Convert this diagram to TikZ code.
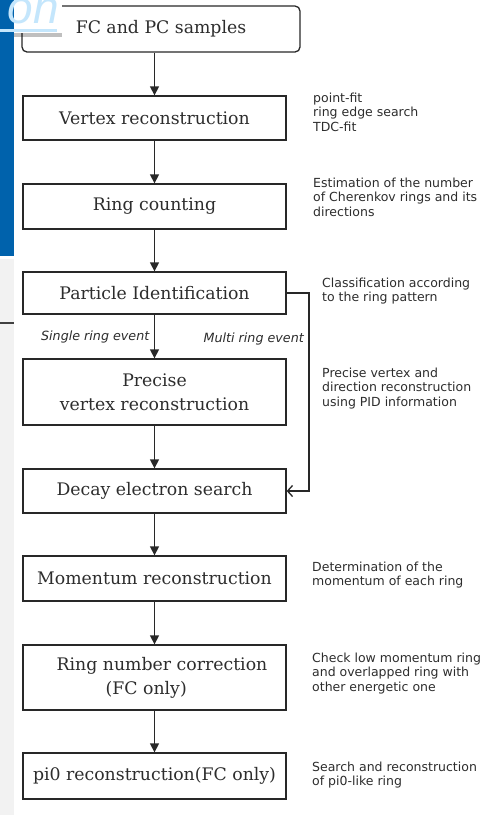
\documentclass[tikz,border=0pt]{standalone}
\usepackage{fontspec}
\setmainfont{DejaVu Serif}
\newfontfamily\sidefont{DejaVu Sans}[ItalicFont={DejaVu Sans Oblique}]
\newfontfamily\titlefont{Liberation Sans}
\usetikzlibrary{arrows.meta}
\definecolor{linec}{RGB}{40,40,40}
\definecolor{textc}{RGB}{45,45,45}
\definecolor{panelblue}{RGB}{0,98,172}
\definecolor{panelgray}{RGB}{242,242,242}
\definecolor{titleblue}{RGB}{196,230,252}
\tikzset{
  box/.style={draw=linec, line width=1.3pt, minimum width=263pt, inner sep=0pt,
    font=\fontsize{17.3}{24}\selectfont, text=textc, align=center},
  arr/.style={-{Triangle[length=9pt,width=9pt]}, line width=1.3pt, draw=linec},
  barb/.style={-{Straight Barb[length=5pt,width=11pt]}, line width=1.3pt, draw=linec},
  side/.style={font=\sidefont\fontsize{12.5}{14.5}\selectfont, anchor=base west,
    align=left, inner sep=0pt, text=textc},
  lab/.style={font=\sidefont\itshape\fontsize{12.7}{14}\selectfont, inner sep=0pt,
    anchor=base east, text=textc}
}
\begin{document}
\begin{tikzpicture}[x=1pt,y=-1pt]
\useasboundingbox (0,0) rectangle (491,815);
\fill[white] (0,0) rectangle (491,815);
% left slide strip
\fill[panelblue] (0,0) rectangle (14,256);
\fill[panelgray] (0,259) rectangle (14,815);
\draw[black!75, line width=1.5pt] (0,323) -- (14,323);

% boxes
\node[box, rounded corners=5pt, minimum width=278pt, minimum height=46pt] (b1) at (161,29) {FC and PC samples};
\node[box, minimum height=44pt] (b2) at (154.5,118) {Vertex reconstruction};
\node[box, minimum height=45pt] (b3) at (154.5,206.5) {Ring counting};
\node[box, minimum height=42pt] (b4) at (154.5,293) {Particle Identification};
\node[box, minimum height=66pt] (b5) at (154.5,392) {Precise\\vertex reconstruction};
\node[box, minimum height=44pt] (b6) at (154.5,491) {Decay electron search};
\node[box, minimum height=45pt] (b7) at (154.5,578.5) {Momentum reconstruction};
\node[box, minimum height=65pt, align=left] (b8) at (154.5,677.5) {\hspace*{15pt}Ring number correction\\\hspace*{64pt}(FC only)};
\node[box, minimum height=46pt] (b9) at (154.5,776) {pi0 reconstruction(FC only)};

% title fragment over the first box
\fill[white] (14,0) rectangle (62,33);
\fill[black, opacity=0.25] (14,33) rectangle (62,37);
\fill[titleblue] (0,29) rectangle (57,32);
\node[font=\titlefont\itshape\fontsize{46}{46}\selectfont, text=titleblue, anchor=base east, inner sep=0pt] (title) at (59,23) {on};

% vertical arrows
\draw[arr] (b1.south -| b2.north) -- (b2.north);
\draw[arr] (b2) -- (b3);
\draw[arr] (b3) -- (b4);
\draw[arr] (b4) -- (b5) coordinate[pos=0.5] (m45);
\draw[arr] (b5) -- (b6);
\draw[arr] (b6) -- (b7);
\draw[arr] (b7) -- (b8);
\draw[arr] (b8) -- (b9);

% multi ring bypass
\coordinate (c1) at (309,0);
\draw[barb] (b4.east) -| (c1 |- b6.east) -- (b6.east);
\node[lab] (single) at ([xshift=-5pt,yshift=-4pt]m45) {Single ring event};
\node[lab] (multi) at (304,342) {Multi ring event};

% side notes (anchor at baseline of last line)
\node[side] (n2) at (313,131) {point-fit\\ring edge search\\TDC-fit};
\node[side] (n3) at (313,216) {Estimation of the number\\of Cherenkov rings and its\\directions};
\node[side] (n4) at (322,301.5) {Classification according\\to the ring pattern};
\node[side] (n5) at (322,406) {Precise vertex and\\direction reconstruction\\using PID information};
\node[side] (n7) at (312,585.5) {Determination of the\\momentum of each ring};
\node[side] (n8) at (312,691) {Check low momentum ring\\and overlapped ring with\\other energetic one};
\node[side] (n9) at (312,785.5) {Search and reconstruction\\of pi0-like ring};
\end{tikzpicture}
\end{document}
